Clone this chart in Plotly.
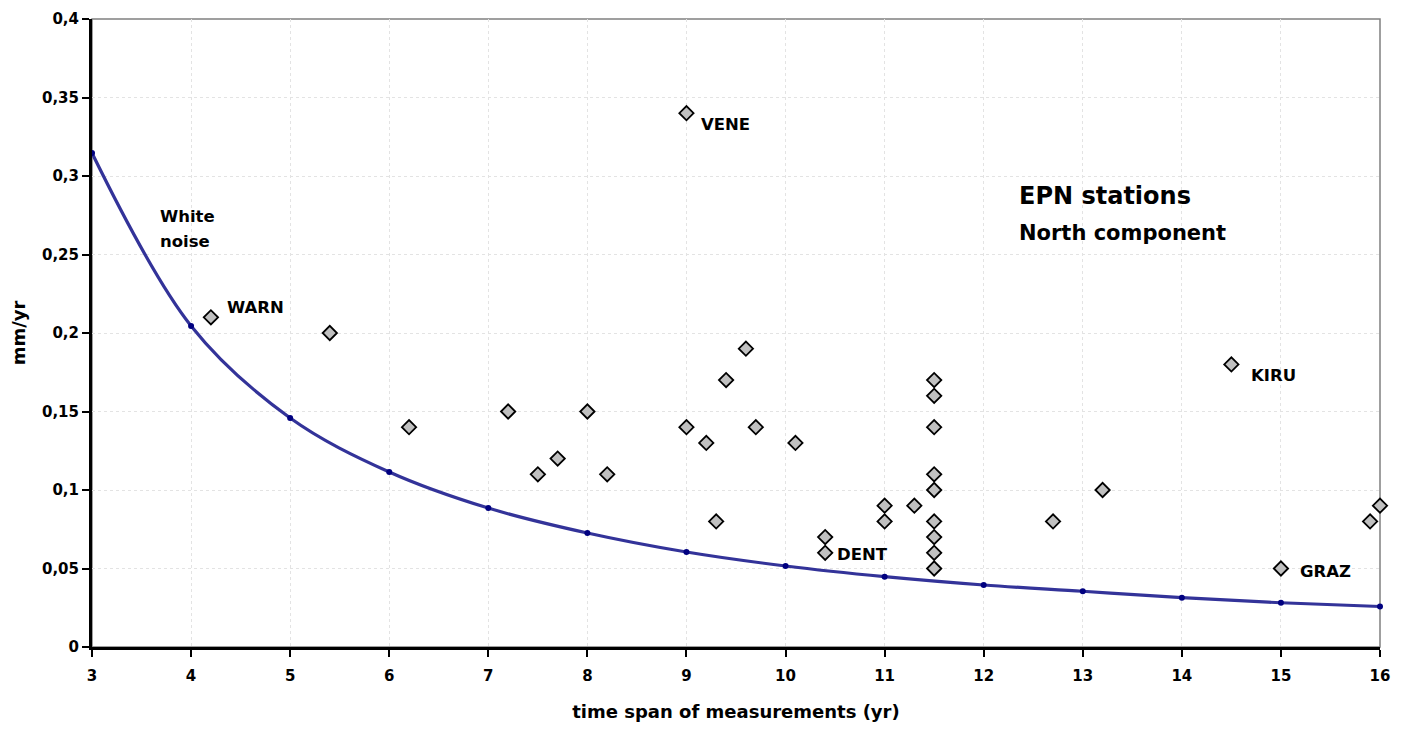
import plotly.graph_objects as go

# White-noise curve
curve_x = [3, 4, 5, 6, 7, 8, 9, 10, 11, 12, 13, 14, 15, 16]
curve_y = [0.3146, 0.2045, 0.1459, 0.1115, 0.0885, 0.0726, 0.0605, 0.0516, 0.0448, 0.0395, 0.0355, 0.0314, 0.0282, 0.0258]

# EPN stations
st_x = [4.2, 5.4, 6.2, 7.2, 7.5, 7.7, 8.0, 8.2, 9.0, 9.0, 9.2, 9.3, 9.4, 9.6, 9.7, 10.1,
        10.4, 10.4, 11.0, 11.0, 11.3, 11.5, 11.5, 11.5, 11.5, 11.5, 11.5, 11.5, 11.5, 11.5,
        12.7, 13.2, 14.5, 15.0, 15.9, 16.0]
st_y = [0.21, 0.20, 0.14, 0.15, 0.11, 0.12, 0.15, 0.11, 0.34, 0.14, 0.13, 0.08, 0.17, 0.19, 0.14, 0.13,
        0.07, 0.06, 0.09, 0.08, 0.09, 0.17, 0.16, 0.14, 0.11, 0.10, 0.08, 0.07, 0.06, 0.05,
        0.08, 0.10, 0.18, 0.05, 0.08, 0.09]

labels = ["WARN", "VENE", "DENT", "KIRU", "GRAZ"]
label_x = [4.34, 9.13, 10.50, 14.68, 15.17]
label_y = [0.216, 0.333, 0.059, 0.173, 0.048]

x_ticks = list(range(3, 17))
y_ticks = [0, 0.05, 0.1, 0.15, 0.2, 0.25, 0.3, 0.35, 0.4]

FONT = "DejaVu Sans, Liberation Sans, sans-serif"

def bold(size):
    return dict(family=FONT, size=size, color="black", weight="bold")

fig = go.Figure()
fig.add_trace(go.Scatter(
    x=curve_x, y=curve_y, mode="lines+markers",
    line=dict(color="#333399", width=3.2, shape="spline"),
    marker=dict(color="#000080", size=6),
    showlegend=False, hoverinfo="skip", cliponaxis=False))
fig.add_trace(go.Scatter(
    x=st_x, y=st_y, mode="markers",
    marker=dict(symbol="diamond", size=11, color="#C0C0C0",
                line=dict(color="black", width=1.8)),
    showlegend=False, cliponaxis=False))

for t, x, y in zip(labels, label_x, label_y):
    fig.add_annotation(x=x, y=y, text=t, showarrow=False, xanchor="left", yanchor="middle",
                       font=bold(16.5))

fig.add_annotation(x=3.67, y=0.274, text="White", showarrow=False,
                   xanchor="left", yanchor="middle", font=bold(16.5))
fig.add_annotation(x=3.67, y=0.258, text="noise", showarrow=False,
                   xanchor="left", yanchor="middle", font=bold(16.5))
fig.add_annotation(x=12.34, y=0.287, text="EPN stations", showarrow=False,
                   xanchor="left", yanchor="middle", font=bold(24))
fig.add_annotation(x=12.34, y=0.264, text="North component", showarrow=False,
                   xanchor="left", yanchor="middle", font=bold(21))

# thin grey border on top / right
fig.add_shape(type="rect", xref="paper", yref="paper", x0=0, y0=0, x1=1, y1=1,
              line=dict(color="#808080", width=1.5), layer="below")

fig.update_layout(
    width=1392, height=721,
    margin=dict(l=84, r=20, t=11, b=82),
    paper_bgcolor="white", plot_bgcolor="white",
    font=dict(family=FONT, size=15, color="black"),
)
fig.update_xaxes(
    range=[3, 16], tickvals=x_ticks, ticktext=[str(v) for v in x_ticks],
    automargin=False,
    showgrid=True, gridcolor="#E3E3E3", griddash="dot", gridwidth=1,
    showline=True, linecolor="black", linewidth=3,
    ticks="outside", ticklen=7, tickwidth=2, tickcolor="black",
    tickfont=bold(15), ticklabelstandoff=6,
    title=dict(text="time span of measurements (yr)", font=bold(18), standoff=22),
    zeroline=False)
fig.update_yaxes(
    range=[0, 0.4], tickvals=y_ticks,
    ticktext=[("%g" % v).replace(".", ",") for v in y_ticks],
    automargin=False,
    showgrid=True, gridcolor="#E3E3E3", griddash="dot", gridwidth=1,
    showline=True, linecolor="black", linewidth=3,
    ticks="outside", ticklen=7, tickwidth=2, tickcolor="black",
    tickfont=bold(15),
    title=dict(text="mm/yr", font=bold(18), standoff=16),
    zeroline=False)

fig.write_html("out.html")
